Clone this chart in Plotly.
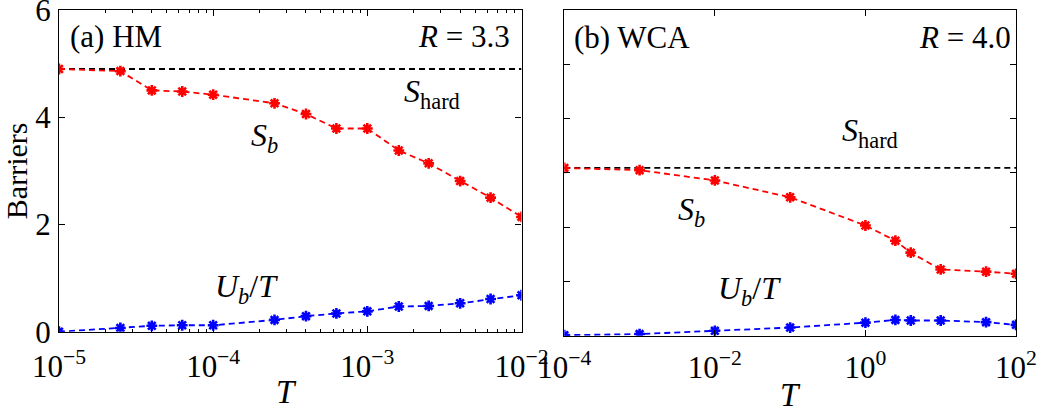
import plotly.graph_objects as go

# ---------------- data ----------------
# Panel (a) HM, R = 3.3
T_hm = [1e-5, 2.5e-5, 4e-5, 6.3e-5, 1e-4, 2.5e-4, 4e-4, 6.3e-4, 1e-3, 1.6e-3, 2.5e-3, 4e-3, 6.3e-3, 1e-2]
Sb_hm = [4.90, 4.86, 4.50, 4.48, 4.42, 4.26, 4.06, 3.79, 3.79, 3.38, 3.14, 2.81, 2.50, 2.14]
UbT_hm = [0.00, 0.07, 0.11, 0.12, 0.12, 0.22, 0.29, 0.34, 0.38, 0.47, 0.48, 0.53, 0.61, 0.68]
Shard_hm = 4.90

# Panel (b) WCA, R = 4.0
T_wca = [1e-4, 1e-3, 1e-2, 1e-1, 1.0, 2.5, 4.0, 10.0, 40.0, 100.0]
Sb_wca = [3.09, 3.05, 2.86, 2.55, 2.03, 1.75, 1.53, 1.22, 1.18, 1.14]
UbT_wca = [0.01, 0.03, 0.09, 0.15, 0.24, 0.29, 0.28, 0.28, 0.25, 0.20]
Shard_wca = 3.09

xt_hm_vals = [1e-5, 1e-4, 1e-3, 1e-2]
xt_hm_text = ["10<sup>−5</sup>", "10<sup>−4</sup>", "10<sup>−3</sup>", "10<sup>−2</sup>"]
xt_wca_vals = [1e-4, 1e-2, 1e0, 1e2]
xt_wca_text = ["10<sup>−4</sup>", "10<sup>−2</sup>", "10<sup>0</sup>", "10<sup>2</sup>"]
yt_vals = [0, 2, 4, 6]
yt_wca_vals = [0, 1, 2, 3, 4, 5, 6]

# ---------------- figure ----------------
W, H = 1044, 413
FONT = "Liberation Serif"
RED, BLUE, BLACK = "#ff0000", "#0000ff", "#000000"
DASH = "6px,4px"

fig = go.Figure()

def add_panel(T, Sb, UbT, Sh, xa, ya):
    fig.add_trace(go.Scatter(x=[T[0], T[-1]], y=[Sh, Sh], mode="lines",
                             line=dict(color=BLACK, width=1.8, dash=DASH),
                             xaxis=xa, yaxis=ya, showlegend=False, hoverinfo="skip"))
    fig.add_trace(go.Scatter(x=T, y=Sb, mode="lines+markers",
                             line=dict(color=RED, width=1.8, dash=DASH),
                             marker=dict(symbol="asterisk-open", size=9, color=RED,
                                         line=dict(color=RED, width=2.6)),
                             xaxis=xa, yaxis=ya, showlegend=False))
    fig.add_trace(go.Scatter(x=T, y=UbT, mode="lines+markers",
                             line=dict(color=BLUE, width=1.8, dash=DASH),
                             marker=dict(symbol="asterisk-open", size=9, color=BLUE,
                                         line=dict(color=BLUE, width=2.6)),
                             xaxis=xa, yaxis=ya, showlegend=False))

add_panel(T_hm, Sb_hm, UbT_hm, Shard_hm, "x", "y")
add_panel(T_wca, Sb_wca, UbT_wca, Shard_wca, "x2", "y2")

def px_x(p):
    return p / W

def px_y(p):
    return 1 - p / H

axis_common = dict(showline=True, linecolor=BLACK, linewidth=1.2, mirror="allticks",
                   ticks="inside", tickcolor=BLACK, tickwidth=1, showgrid=False,
                   zeroline=False, automargin=False, ticklabeloverflow="allow",
                   tickfont=dict(family=FONT, size=31, color=BLACK))

fig.update_layout(
    width=W, height=H, margin=dict(l=0, r=0, t=0, b=0, autoexpand=False),
    paper_bgcolor="white", plot_bgcolor="white",
    font=dict(family=FONT, color=BLACK),
    xaxis=dict(type="log", domain=[px_x(59), px_x(521.5)], anchor="y",
               range=[-5, -2], tickvals=xt_hm_vals, ticktext=xt_hm_text, ticklen=6,
               ticklabelstandoff=7,
               minor=dict(ticks="inside", ticklen=3, tickcolor=BLACK, showgrid=False,
                          tickvals=[m * d for d in [1e-5, 1e-4, 1e-3] for m in range(2, 10)]),
               **axis_common),
    yaxis=dict(domain=[px_y(331.7), px_y(10)], anchor="x", range=[0, 6],
               tickvals=yt_vals, ticklen=6, ticklabelstandoff=1,
               title=dict(text="Barriers", font=dict(family=FONT, size=30), standoff=3),
               **axis_common),
    xaxis2=dict(type="log", domain=[px_x(564.3), px_x(1016)], anchor="y2",
                range=[-4, 2], tickvals=xt_wca_vals, ticktext=xt_wca_text, ticklen=6,
                ticklabelstandoff=4,
                **axis_common),
    yaxis2=dict(domain=[px_y(335.7), px_y(10)], anchor="x2", range=[0, 6],
                tickvals=yt_wca_vals, showticklabels=False, ticklen=6,
                **axis_common),
)

def ann(text, x, y, xanchor="left", size=30):
    fig.add_annotation(text=text, x=px_x(x), y=px_y(y), xref="paper", yref="paper",
                       xanchor=xanchor, yanchor="middle", showarrow=False,
                       font=dict(family=FONT, size=size, color=BLACK))

# axis titles (x)
ann("<i>T</i>", 286, 392, xanchor="center", size=33)
ann("<i>T</i>", 790, 395, xanchor="center", size=33)

# Panel (a) labels
ann("(a) HM", 68, 36, size=31)
ann("<i>R</i> = 3.3", 512, 36, xanchor="right", size=31)
ann("<i>S</i><sub>hard</sub>", 402, 94, size=32)
ann("<i>S</i><sub><i>b</i></sub>", 249, 137, size=32)
ann("<i>U</i><sub><i>b</i></sub>/<i>T</i>", 213, 288, size=32)

# Panel (b) labels
ann("(b) WCA", 572, 38, size=31)
ann("<i>R</i> = 4.0", 1013, 38, xanchor="right", size=31)
ann("<i>S</i><sub>hard</sub>", 840, 132, size=32)
ann("<i>S</i><sub><i>b</i></sub>", 676, 211, size=32)
ann("<i>U</i><sub><i>b</i></sub>/<i>T</i>", 716, 290, size=32)

fig.write_html("out.html")
